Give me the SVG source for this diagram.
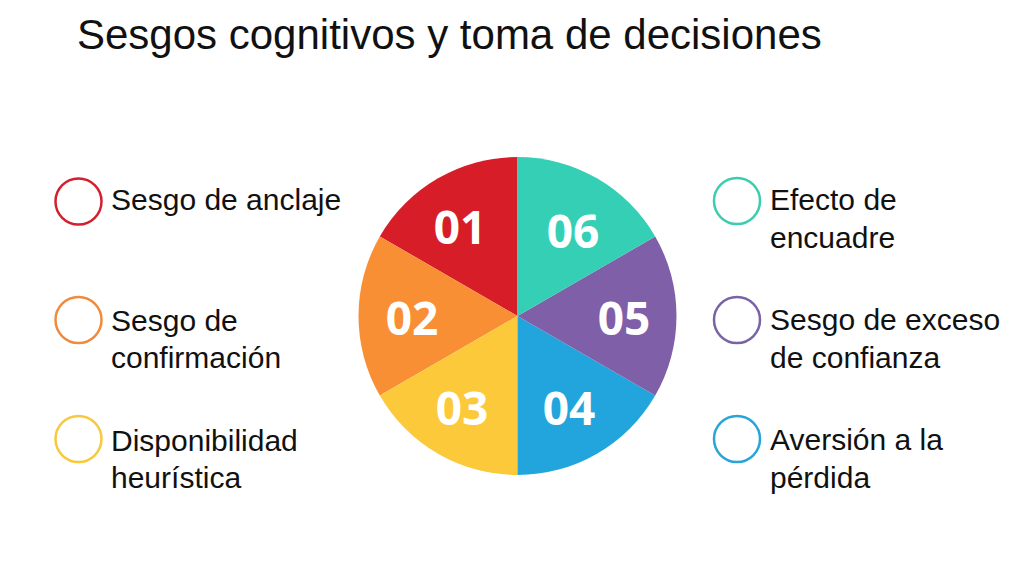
<svg xmlns="http://www.w3.org/2000/svg" width="1024" height="576" viewBox="0 0 1024 576">
<style>
.t{font-family:"Liberation Sans",Arial,sans-serif;fill:#111;}
.lbl{font-size:30px;}
.num{font-family:"Open Sans","Liberation Sans",sans-serif;font-weight:700;font-size:46px;fill:#fff;text-anchor:middle;}
.ring{fill:none;stroke-width:2.5;}
</style>
<rect width="1024" height="576" fill="#fff"/>
<text class="t" x="77" y="49" font-size="42">Sesgos cognitivos y toma de decisiones</text>
<g id="pie">
<path d="M517.5,316 L517.5,157 A159,159 0 0 0 379.8,236.5 Z" fill="#D71E28"/>
<path d="M517.5,316 L379.8,236.5 A159,159 0 0 0 379.8,395.5 Z" fill="#F98F35"/>
<path d="M517.5,316 L379.8,395.5 A159,159 0 0 0 517.5,475 Z" fill="#FCC93A"/>
<path d="M517.5,316 L517.5,475 A159,159 0 0 0 655.2,395.5 Z" fill="#22A5DC"/>
<path d="M517.5,316 L655.2,395.5 A159,159 0 0 0 655.2,236.5 Z" fill="#7F5FA8"/>
<path d="M517.5,316 L655.2,236.5 A159,159 0 0 0 517.5,157 Z" fill="#35CFB5"/>
<text class="num" x="460" y="244">01</text>
<text class="num" x="573" y="248">06</text>
<text class="num" x="412" y="335">02</text>
<text class="num" x="624" y="335">05</text>
<text class="num" x="462" y="425">03</text>
<text class="num" x="569" y="425">04</text>
</g>
<g id="item1"><circle class="ring" cx="78.5" cy="201.5" r="23" stroke="#D2202F"/><text class="t lbl" x="111" y="210">Sesgo de anclaje</text></g>
<g id="item2"><circle class="ring" cx="78.5" cy="320" r="23" stroke="#F08A3C"/><text class="t lbl" x="111" y="331">Sesgo de</text><text class="t lbl" x="111" y="368">confirmación</text></g>
<g id="item3"><circle class="ring" cx="78.5" cy="439" r="23" stroke="#F8C93C"/><text class="t lbl" x="111" y="451">Disponibilidad</text><text class="t lbl" x="111" y="488">heurística</text></g>
<g id="item6"><circle class="ring" cx="737" cy="201" r="23" stroke="#3CCDAF"/><text class="t lbl" x="770" y="210">Efecto de</text><text class="t lbl" x="770" y="248">encuadre</text></g>
<g id="item5"><circle class="ring" cx="737" cy="320" r="23" stroke="#7A62A6"/><text class="t lbl" x="770" y="330">Sesgo de exceso</text><text class="t lbl" x="770" y="368">de confianza</text></g>
<g id="item4"><circle class="ring" cx="737" cy="439" r="23" stroke="#28A5D8"/><text class="t lbl" x="770" y="450">Aversión a la</text><text class="t lbl" x="770" y="488">pérdida</text></g>
<g id="connectors"/>
</svg>
